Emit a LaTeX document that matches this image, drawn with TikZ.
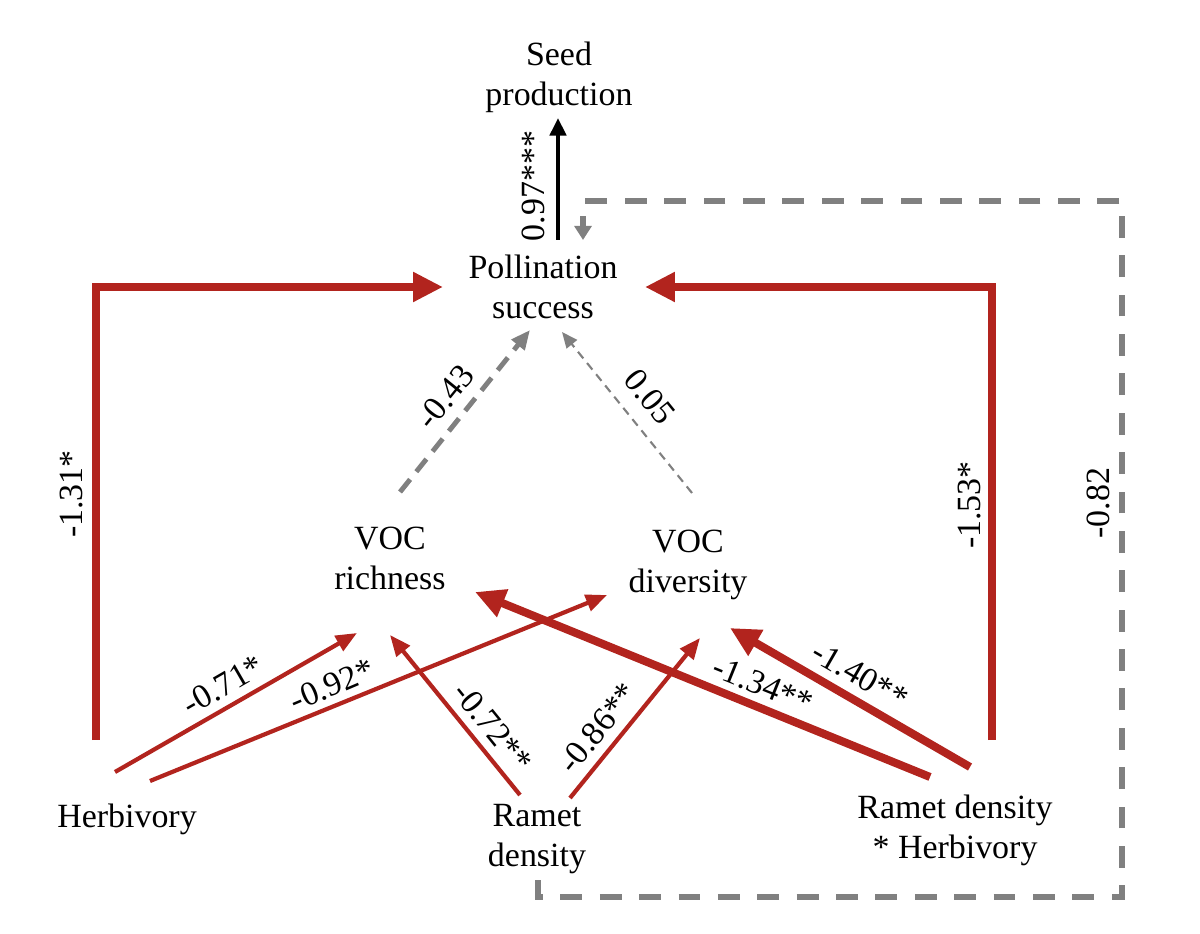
\documentclass[tikz,border=0pt]{standalone}
\usepackage{fontspec}
\setmainfont{Liberation Serif}
\usetikzlibrary{arrows.meta}
\definecolor{pathred}{RGB}{178,36,30}
\definecolor{pathgray}{RGB}{128,128,128}
\newcommand{\pathfont}{\fontsize{9.65}{11.4}\selectfont}

\tikzset{
	var/.style={align=center, inner sep=0pt, font=\pathfont},
	coef/.style={inner sep=0pt, font=\pathfont},
	redthin/.style={draw=pathred, line width=1.2pt, -{Triangle[length=6pt,width=4.8pt]}},
	redthick/.style={draw=pathred, line width=2.3pt, -{Triangle[length=8.5pt,width=8pt]}},
	blackarrow/.style={draw=black, line width=1.1pt, -{Triangle[length=5pt,width=4.6pt]}},
	nsthick/.style={draw=pathgray, line width=1.4pt, dash pattern=on 4.6pt off 2.8pt, -{Triangle[length=5.5pt,width=4.6pt]}},
	nsthin/.style={draw=pathgray, line width=0.6pt, dash pattern=on 2.4pt off 1.7pt, -{Triangle[length=4.5pt,width=3.8pt]}},
	nsloop/.style={draw=pathgray, line width=1.6pt, dash pattern=on 6.2pt off 5pt, -{Triangle[length=4pt,width=4.8pt]}}
}

\begin{document}
\begin{tikzpicture}[x=0.01cm, y=-0.01cm]
	\useasboundingbox (0,0) rectangle (1200,934);

	% variables
	\node [var] (seed) at (559,77) {Seed\\production};
	\node [var] (poll) at (543,287) {Pollination\\success};
	\node [var] (vocr) at (390,558) {VOC\\richness};
	\node [var] (vocd) at (688,565) {VOC\\diversity};
	\node [var] (herb) at (127,819) {Herbivory};
	\node [var] (ramet) at (537,839) {Ramet\\density};
	\node [var] (inter) at (955,830) {Ramet density\\* Herbivory};

	% arrow ends
	\coordinate (seed-s) at (558,118);
	\coordinate (poll-n) at (558,240);
	\coordinate (poll-c) at (583,240);
	\coordinate (poll-w) at (443,287);
	\coordinate (poll-e) at (645,287);
	\coordinate (poll-a) at (530,330);
	\coordinate (poll-b) at (562,332);
	\coordinate (vocr-t) at (400,492);
	\coordinate (vocd-t) at (692,493);
	\coordinate (vocr-a) at (357,633);
	\coordinate (vocr-b) at (390,635);
	\coordinate (vocr-c) at (475,592);
	\coordinate (vocd-a) at (607,595);
	\coordinate (vocd-b) at (700,638);
	\coordinate (vocd-c) at (730,628);
	\coordinate (herb-a) at (115,772);
	\coordinate (herb-b) at (150,781);
	\coordinate (herb-c) at (96,740);
	\coordinate (ramet-a) at (520,795);
	\coordinate (ramet-b) at (570,798);
	\coordinate (ramet-s) at (538,880);
	\coordinate (inter-a) at (930,777);
	\coordinate (inter-b) at (970,767);
	\coordinate (inter-c) at (992,740);

	% paths
	\draw [blackarrow] (poll-n) -- (seed-s);
	\draw (533,186) node [coef, rotate=90] {0.97***};

	\draw [nsloop] (ramet-s) -- (538,897) -- (1122,897) -- (1122,201) -- (583,201) -- (poll-c);
	\draw (1098,503) node [coef, rotate=90] {-0.82};

	\draw [redthick] (herb-c) -- (96,287) -- (poll-w);
	\draw (72,494) node [coef, rotate=90] {-1.31*};
	\draw [redthick] (inter-c) -- (992,287) -- (poll-e);
	\draw (969,505) node [coef, rotate=90] {-1.53*};

	\draw [nsthick] (vocr-t) -- (poll-a);
	\draw (445,397) node [coef, rotate=51] {-0.43};
	\draw [nsthin] (vocd-t) -- (poll-b);
	\draw (650,397) node [coef, rotate=-51] {0.05};

	\draw [redthin] (herb-a) -- (vocr-a);
	\draw (223,685) node [coef, rotate=30] {-0.71*};
	\draw [redthin] (herb-b) -- (vocd-a);
	\draw (332,685) node [coef, rotate=23] {-0.92*};
	\draw [redthin] (ramet-a) -- (vocr-b);
	\draw (493,727) node [coef, rotate=-51] {-0.72**};
	\draw [redthin] (ramet-b) -- (vocd-b);
	\draw (598,728) node [coef, rotate=51] {-0.86**};
	\draw [redthick] (inter-a) -- (vocr-c);
	\draw (763,685) node [coef, rotate=-22] {-1.34**};
	\draw [redthick] (inter-b) -- (vocd-c);
	\draw (860,675) node [coef, rotate=-30] {-1.40**};
\end{tikzpicture}
\end{document}
